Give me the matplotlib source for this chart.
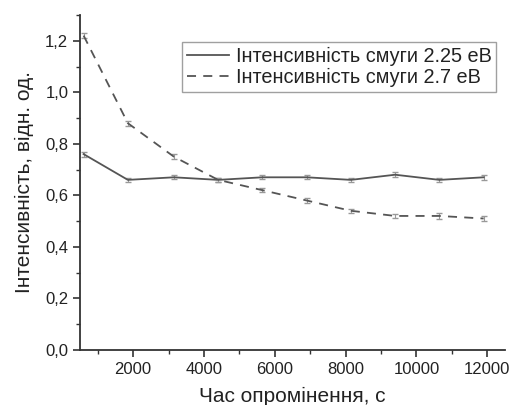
import matplotlib
matplotlib.use("Agg")
import matplotlib.pyplot as plt
from matplotlib.ticker import MultipleLocator, FuncFormatter

plt.rcParams['font.family'] = ['Liberation Sans', 'DejaVu Sans']

# irradiation time, s
time_s = [600, 1850, 3150, 4400, 5650, 6900, 8150, 9400, 10650, 11900]
# band 2.25 eV
band_225 = [0.76, 0.66, 0.67, 0.66, 0.67, 0.67, 0.66, 0.68, 0.66, 0.67]
err_225 = [0.01, 0.008, 0.008, 0.008, 0.008, 0.008, 0.008, 0.01, 0.008, 0.01]
# band 2.7 eV
band_27 = [1.22, 0.88, 0.75, 0.66, 0.62, 0.58, 0.54, 0.52, 0.52, 0.51]
err_27 = [0.01, 0.01, 0.01, 0.008, 0.008, 0.008, 0.008, 0.008, 0.01, 0.01]

labels = ['Інтенсивність смуги 2.25 eВ', 'Інтенсивність смуги 2.7 eВ']
col = '#555555'

fig = plt.figure(figsize=(5.1, 4.05), dpi=100)
ax = fig.add_axes([0.157, 0.136, 0.833, 0.827])

eb1 = ax.errorbar(time_s, band_225, yerr=err_225, color=col, lw=1.3, ls='-',
                  capsize=2.5, elinewidth=0.8, ecolor='#999999')
eb2 = ax.errorbar(time_s, band_27, yerr=err_27, color=col, lw=1.3, ls=(0, (5, 4)),
                  capsize=2.5, elinewidth=0.8, ecolor='#999999')

ax.set_xlim(500, 12500)
ax.set_ylim(0, 1.3)
ax.xaxis.set_major_locator(MultipleLocator(2000))
ax.xaxis.set_minor_locator(MultipleLocator(1000))
ax.yaxis.set_major_locator(MultipleLocator(0.2))
ax.yaxis.set_minor_locator(MultipleLocator(0.1))
ax.yaxis.set_major_formatter(FuncFormatter(lambda v, p: f'{v:.1f}'.replace('.', ',')))

for s in ['top', 'right']:
    ax.spines[s].set_visible(False)
for s in ['left', 'bottom']:
    ax.spines[s].set_color('#333333')
    ax.spines[s].set_linewidth(1.3)

ax.tick_params(which='major', direction='out', length=5, width=1.2,
               colors='#333333', labelsize=12, labelcolor='#222222')
ax.tick_params(which='minor', direction='out', length=3, width=1.0, colors='#333333')

ax.set_xlabel('Час опромінення, с', fontsize=15, color='#222222', labelpad=7)
ax.set_ylabel('Інтенсивність, відн. од.', fontsize=15, color='#222222', labelpad=8)

leg = ax.legend([eb1[0], eb2[0]], labels, loc='upper right',
                bbox_to_anchor=(0.98, 0.92), fontsize=14.3,
                frameon=True, fancybox=False, handlelength=2.1,
                borderpad=0.25, labelspacing=0.1, handletextpad=0.35,
                borderaxespad=0)
leg.get_frame().set_edgecolor('#888888')
leg.get_frame().set_linewidth(1.0)
for t in leg.get_texts():
    t.set_color('#222222')

fig.savefig('out.png', dpi=100)
